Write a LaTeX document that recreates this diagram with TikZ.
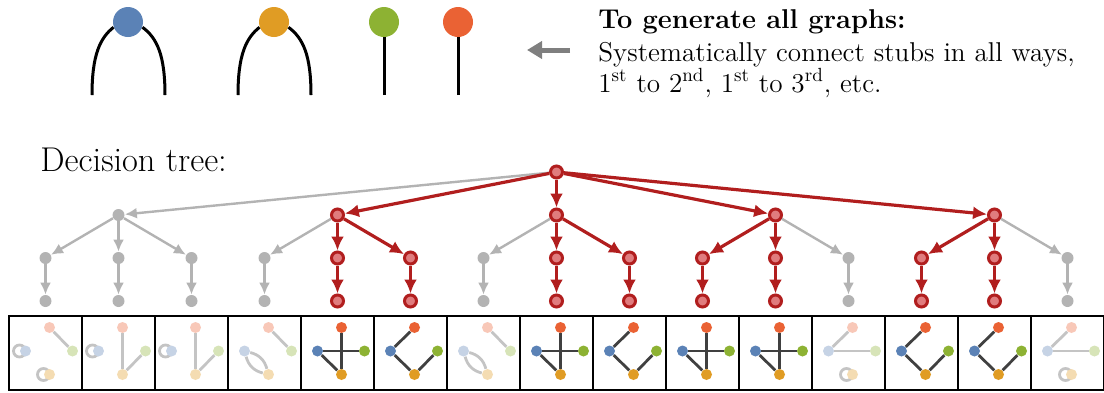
\documentclass[tikz,border=0pt]{standalone}
\usepackage{fontspec}
\usepackage{tikz}
\usepackage{xcolor}
\usetikzlibrary{arrows.meta,backgrounds}
\definecolor{StubBlue}{HTML}{5B82B6}
\definecolor{StubOrange}{HTML}{E09C24}
\definecolor{StubGreen}{HTML}{8DB233}
\definecolor{StubRed}{HTML}{EA6234}
\definecolor{TreeRed}{HTML}{B11E1E}
\definecolor{TreePink}{HTML}{E07C7E}
\definecolor{TreeGray}{HTML}{B3B3B3}
\definecolor{EdgeDark}{HTML}{404040}
\definecolor{EdgePale}{HTML}{C4C4C4}
\definecolor{ArrowGray}{HTML}{7F7F7F}
\newcommand\texttitle{To generate all graphs:}
\newcommand\textconnect{Systematically connect stubs in all ways,}
\newcommand\textorder{1\textsuperscript{st} to 2\textsuperscript{nd}, 1\textsuperscript{st} to 3\textsuperscript{rd}, etc.}
\newcommand\texttree{Decision tree:}
\tikzstyle{stubnode} = [circle, minimum size=15pt, inner sep=0pt]
\tikzstyle{stubline} = [line width=1.5pt, black]
\tikzstyle{gn} = [circle, fill=TreeGray, minimum size=6pt, inner sep=0pt]
\tikzstyle{rn} = [circle, draw=TreeRed, fill=TreePink, line width=1.5pt, minimum size=6pt, inner sep=0pt]
\tikzstyle{ga} = [-{Latex[length=6pt,width=5.5pt]}, TreeGray, line width=1.2pt]
\tikzstyle{ra} = [-{Latex[length=7pt,width=6.5pt]}, TreeRed, line width=1.6pt]
\tikzstyle{vx} = [circle, minimum size=5.5pt, inner sep=0pt]
\tikzstyle{de} = [EdgeDark, line width=1.4pt]
\tikzstyle{pe} = [EdgePale, line width=1.4pt]
\tikzstyle{boxframe} = [draw, line width=1pt, minimum width=36.25pt, minimum height=37pt, inner sep=0pt]
\newcommand\minigraph[3]{%
  \node[boxframe] (box#1) at (#2,353) {};
  \node[vx, fill=StubRed#3] (vr#1) at (#2+4,327.5) {};
  \node[vx, fill=StubBlue#3] (vb#1) at (#2-20,351) {};
  \node[vx, fill=StubGreen#3] (vg#1) at (#2+27,351) {};
  \node[vx, fill=StubOrange#3] (vo#1) at (#2+4,374.5) {};
}
\tikzset{every picture/.style={x=0.5pt, y=-0.5pt}}

\begin{document}
\begin{tikzpicture}
\useasboundingbox (0,0) rectangle (1104,392);
\node[stubnode, fill=StubBlue] (sb) at (128,22) {};
\node[stubnode, fill=StubOrange] (so) at (274,22) {};
\node[stubnode, fill=StubGreen] (sg) at (384,22) {};
\node[stubnode, fill=StubRed] (sr) at (458,22) {};
\coordinate (sbl) at (92,95);
\coordinate (sbr) at (165,95);
\coordinate (sol) at (238,95);
\coordinate (sor) at (311,95);
\coordinate (sgb) at (384,95);
\coordinate (srb) at (458,95);
\draw[stubline] (sbl) .. controls (92,55) and (100,38) .. (sb.200);
\draw[stubline] (sbr) .. controls (165,55) and (157,38) .. (sb.340);
\draw[stubline] (sol) .. controls (238,55) and (246,38) .. (so.200);
\draw[stubline] (sor) .. controls (311,55) and (303,38) .. (so.340);
\draw[stubline] (sgb) -- (sg);
\draw[stubline] (srb) -- (sr);
\coordinate (arrtail) at (570,50);
\coordinate (arrhead) at (527,50);
\draw[-{Triangle[length=7.5pt,width=8.5pt]}, ArrowGray, line width=2.5pt] (arrtail) -- (arrhead);
\node[anchor=base west, inner sep=0pt, font=\fontsize{13.6}{16}\selectfont\bfseries] (title) at (598,28) {\texttitle};
\node[anchor=base west, inner sep=0pt, font=\fontsize{13.6}{16}\selectfont] (connect) at (598,61) {\textconnect};
\node[anchor=base west, inner sep=0pt, font=\fontsize{13.6}{16}\selectfont] (order) at (598,92) {\textorder};
\node[anchor=base west, inner sep=0pt, font=\fontsize{17.2}{20}\selectfont] (tree) at (40,171) {\texttree};
\node[rn] (root) at (556.5,172) {};
\node[gn] (ch1) at (118.5,215) {};
\node[rn] (ch2) at (337.5,215) {};
\node[rn] (ch3) at (556.5,215) {};
\node[rn] (ch4) at (775.5,215) {};
\node[rn] (ch5) at (994.5,215) {};
\node[gn] (gc1) at (45.5,258) {};
\node[gn] (gc2) at (118.5,258) {};
\node[gn] (gc3) at (191.5,258) {};
\node[gn] (gc4) at (264.5,258) {};
\node[rn] (gc5) at (337.5,258) {};
\node[rn] (gc6) at (410.5,258) {};
\node[gn] (gc7) at (483.5,258) {};
\node[rn] (gc8) at (556.5,258) {};
\node[rn] (gc9) at (629.5,258) {};
\node[rn] (gc10) at (702.5,258) {};
\node[rn] (gc11) at (775.5,258) {};
\node[gn] (gc12) at (848.5,258) {};
\node[rn] (gc13) at (921.5,258) {};
\node[rn] (gc14) at (994.5,258) {};
\node[gn] (gc15) at (1067.5,258) {};
\node[gn] (lf1) at (45.5,301) {};
\node[gn] (lf2) at (118.5,301) {};
\node[gn] (lf3) at (191.5,301) {};
\node[gn] (lf4) at (264.5,301) {};
\node[rn] (lf5) at (337.5,301) {};
\node[rn] (lf6) at (410.5,301) {};
\node[gn] (lf7) at (483.5,301) {};
\node[rn] (lf8) at (556.5,301) {};
\node[rn] (lf9) at (629.5,301) {};
\node[rn] (lf10) at (702.5,301) {};
\node[rn] (lf11) at (775.5,301) {};
\node[gn] (lf12) at (848.5,301) {};
\node[rn] (lf13) at (921.5,301) {};
\node[rn] (lf14) at (994.5,301) {};
\node[gn] (lf15) at (1067.5,301) {};
\draw[ga] (root) -- (ch1);
\draw[ra] (root) -- (ch2);
\draw[ra] (root) -- (ch3);
\draw[ra] (root) -- (ch4);
\draw[ra] (root) -- (ch5);
\draw[ga] (ch1) -- (gc1);
\draw[ga] (ch1) -- (gc2);
\draw[ga] (ch1) -- (gc3);
\draw[ga] (ch2) -- (gc4);
\draw[ra] (ch2) -- (gc5);
\draw[ra] (ch2) -- (gc6);
\draw[ga] (ch3) -- (gc7);
\draw[ra] (ch3) -- (gc8);
\draw[ra] (ch3) -- (gc9);
\draw[ra] (ch4) -- (gc10);
\draw[ra] (ch4) -- (gc11);
\draw[ga] (ch4) -- (gc12);
\draw[ra] (ch5) -- (gc13);
\draw[ra] (ch5) -- (gc14);
\draw[ga] (ch5) -- (gc15);
\draw[ga] (gc1) -- (lf1);
\draw[ga] (gc2) -- (lf2);
\draw[ga] (gc3) -- (lf3);
\draw[ga] (gc4) -- (lf4);
\draw[ra] (gc5) -- (lf5);
\draw[ra] (gc6) -- (lf6);
\draw[ga] (gc7) -- (lf7);
\draw[ra] (gc8) -- (lf8);
\draw[ra] (gc9) -- (lf9);
\draw[ra] (gc10) -- (lf10);
\draw[ra] (gc11) -- (lf11);
\draw[ga] (gc12) -- (lf12);
\draw[ra] (gc13) -- (lf13);
\draw[ra] (gc14) -- (lf14);
\draw[ga] (gc15) -- (lf15);
\minigraph{1}{45.5}{!35}
\minigraph{2}{118.5}{!35}
\minigraph{3}{191.5}{!35}
\minigraph{4}{264.5}{!35}
\minigraph{5}{337.5}{}
\minigraph{6}{410.5}{}
\minigraph{7}{483.5}{!35}
\minigraph{8}{556.5}{}
\minigraph{9}{629.5}{}
\minigraph{10}{702.5}{}
\minigraph{11}{775.5}{}
\minigraph{12}{848.5}{!35}
\minigraph{13}{921.5}{}
\minigraph{14}{994.5}{}
\minigraph{15}{1067.5}{!35}
\begin{scope}[on background layer]
\draw[pe] ([xshift=-3pt]vb1.center) circle[radius=3pt];
\draw[pe] ([xshift=-3pt]vo1.center) circle[radius=3pt];
\draw[pe] (vr1) -- (vg1);
\draw[pe] ([xshift=-3pt]vb2.center) circle[radius=3pt];
\draw[pe] (vr2) -- (vo2);
\draw[pe] (vo2) -- (vg2);
\draw[pe] ([xshift=-3pt]vb3.center) circle[radius=3pt];
\draw[pe] (vr3) -- (vo3);
\draw[pe] (vo3) -- (vg3);
\draw[pe] (vb4) to[bend left=30] (vo4);
\draw[pe] (vb4) to[bend right=30] (vo4);
\draw[pe] (vr4) -- (vg4);
\draw[de] (vr5) -- (vo5);
\draw[de] (vb5) -- (vg5);
\draw[de] (vb5) -- (vo5);
\draw[de] (vb6) -- (vr6);
\draw[de] (vb6) -- (vo6);
\draw[de] (vo6) -- (vg6);
\draw[pe] (vb7) to[bend left=30] (vo7);
\draw[pe] (vb7) to[bend right=30] (vo7);
\draw[pe] (vr7) -- (vg7);
\draw[de] (vr8) -- (vo8);
\draw[de] (vb8) -- (vg8);
\draw[de] (vb8) -- (vo8);
\draw[de] (vb9) -- (vr9);
\draw[de] (vb9) -- (vo9);
\draw[de] (vo9) -- (vg9);
\draw[de] (vr10) -- (vo10);
\draw[de] (vb10) -- (vg10);
\draw[de] (vb10) -- (vo10);
\draw[de] (vr11) -- (vo11);
\draw[de] (vb11) -- (vg11);
\draw[de] (vb11) -- (vo11);
\draw[pe] (vb12) -- (vr12);
\draw[pe] (vb12) -- (vg12);
\draw[pe] ([xshift=-3pt]vo12.center) circle[radius=3pt];
\draw[de] (vb13) -- (vr13);
\draw[de] (vb13) -- (vo13);
\draw[de] (vo13) -- (vg13);
\draw[de] (vb14) -- (vr14);
\draw[de] (vb14) -- (vo14);
\draw[de] (vo14) -- (vg14);
\draw[pe] (vb15) -- (vr15);
\draw[pe] (vb15) -- (vg15);
\draw[pe] ([xshift=-3pt]vo15.center) circle[radius=3pt];
\end{scope}
\end{tikzpicture}
\end{document}
